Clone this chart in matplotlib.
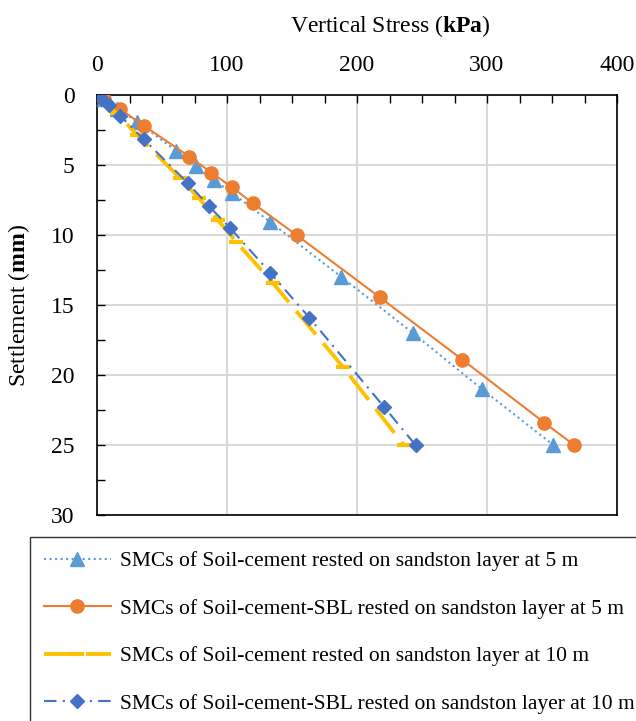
import numpy as np
import matplotlib.pyplot as plt
from matplotlib.ticker import MultipleLocator

plt.rcParams['font.family'] = 'Liberation Serif'
plt.rcParams['mathtext.fontset'] = 'custom'
plt.rcParams['mathtext.rm'] = 'Liberation Serif'
plt.rcParams['mathtext.bf'] = 'Liberation Serif:bold'

# SMCs of Soil-cement, sandstone layer at 5 m
stress_sc5 = [0, 5, 15, 31, 61, 76, 90, 104, 133, 188, 243, 296, 351]
settle_sc5 = [0, 0.3, 1.0, 1.9, 4.0, 5.07, 6.07, 7.0, 9.05, 13.0, 17.0, 21.0, 25.0]

# SMCs of Soil-cement-SBL, sandstone layer at 5 m
stress_sbl5 = [0, 5, 18, 36, 71, 88, 104, 120, 153.5, 217.5, 281, 344, 367]
settle_sbl5 = [0, 0.3, 1.02, 2.19, 4.4, 5.55, 6.6, 7.74, 10.0, 14.45, 18.9, 23.4, 25.0]

# SMCs of Soil-cement, sandstone layer at 10 m
stress_sc10 = [0, 15, 31, 64, 78.5, 93, 107, 135, 189, 236]
settle_sc10 = [0, 1.3, 2.86, 5.95, 7.38, 8.93, 10.48, 13.4, 19.4, 25.0]

# SMCs of Soil-cement-SBL, sandstone layer at 10 m
stress_sbl10 = [0, 4, 9, 18, 36, 70, 86, 102.6, 133.3, 163.3, 221, 245]
settle_sbl10 = [0, 0.3, 0.7, 1.5, 3.17, 6.3, 7.93, 9.52, 12.7, 15.9, 22.3, 25.0]

labels = [
    'SMCs of Soil-cement rested on sandston layer at 5 m',
    'SMCs of Soil-cement-SBL rested on sandston layer at 5 m',
    'SMCs of Soil-cement rested on sandston layer at 10 m',
    'SMCs of Soil-cement-SBL rested on sandston layer at 10 m',
]

fig = plt.figure(figsize=(6.36, 7.21), dpi=100)
ax = fig.add_axes([97 / 636, 1 - 515 / 721, 520 / 636, 420 / 721])

ax.plot(stress_sc5, settle_sc5, color='#5B9BD5', linestyle=':', linewidth=1.5,
        marker='^', markersize=9.5, label=labels[0], zorder=3)
ax.plot(stress_sbl5, settle_sbl5, color='#ED7D31', linestyle='-', linewidth=1.5,
        marker='o', markersize=9.5, label=labels[1], zorder=3)
ax.plot(stress_sc10, settle_sc10, color='#FFC000', linestyle=(0, (8, 3)), linewidth=2.75,
        marker='_', markersize=10, markeredgewidth=3, label=labels[2], zorder=3)
ax.plot(stress_sbl10, settle_sbl10, color='#4472C4', linestyle=(0, (6, 3, 1, 3)), linewidth=1.5,
        marker='D', markersize=7, label=labels[3], zorder=4)

ax.set_xlim(0, 400)
ax.set_ylim(30, 0)
ax.xaxis.set_major_locator(MultipleLocator(100))
ax.xaxis.set_minor_locator(MultipleLocator(25))
ax.yaxis.set_major_locator(MultipleLocator(5))
ax.yaxis.set_minor_locator(MultipleLocator(2.5))
ax.xaxis.tick_top()
ax.xaxis.set_label_position('top')
ax.tick_params(which='both', direction='in', labelsize=17, top=True, bottom=False,
               left=True, right=False, colors='black')
ax.tick_params(which='both', length=6, width=1)
ax.tick_params(axis='x', pad=14)
ax.tick_params(axis='y', pad=16)
ax.grid(True, which='major', color='#d9d9d9', linewidth=1.5)
ax.set_axisbelow(True)
for s in ax.spines.values():
    s.set_color('black')
    s.set_linewidth(1.2)

ax.set_xlabel(r'Vertical Stress ($\mathbf{kPa}$)', fontsize=17)
ax.xaxis.set_label_coords(0.563, 1.15)
ax.set_ylabel(r'Settlement ($\mathbf{mm}$)', fontsize=17)
ax.yaxis.set_label_coords(-0.125, 0.5)

handles, lbls = ax.get_legend_handles_labels()
leg = fig.legend(handles, lbls, loc='upper left',
                 bbox_to_anchor=(30 / 636, 0, 615 / 636, 1 - 537 / 721), mode='expand',
                 fontsize=15.5, frameon=True, fancybox=False, edgecolor='black',
                 handlelength=3.1, handletextpad=0.45, labelspacing=1.28,
                 borderpad=0.65, borderaxespad=0)
leg.get_frame().set_linewidth(1.0)

fig.savefig('out.png', dpi=100)
